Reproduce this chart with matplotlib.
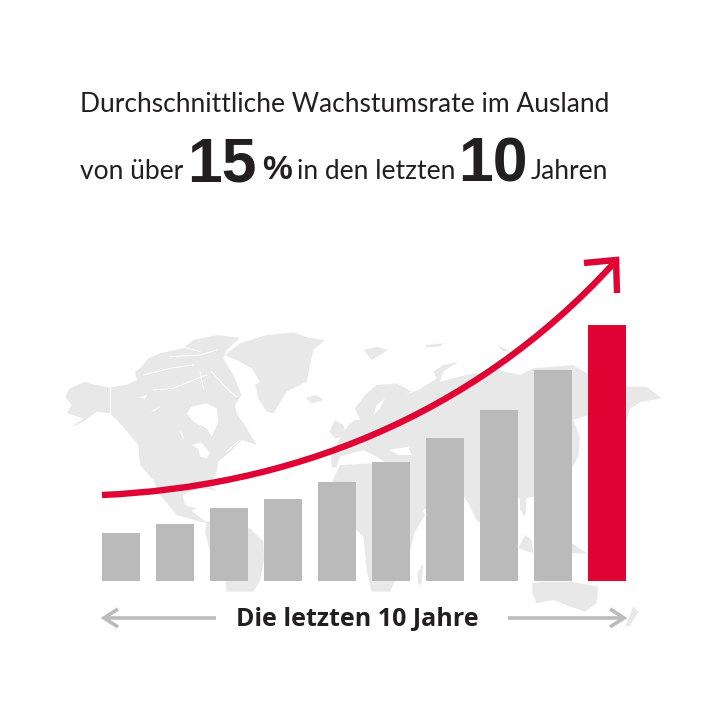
import matplotlib
matplotlib.use("Agg")
import matplotlib.pyplot as plt
from matplotlib.patches import PathPatch, Polygon
from matplotlib.path import Path

# bar heights
years = list(range(1, 11))
values = [48, 57, 73, 82, 99, 119, 143, 171, 211, 256]
bar_colors = ["#bababa"] * 9 + ["#e00434"]

title_line = "Durchschnittliche Wachstumsrate im Ausland"
bottom_label = "Die letzten 10 Jahre"

# map outlines, traced at 3x from two crops of the picture
west_land = [
    [(15, 215), (30, 190), (75, 170), (100, 178), (150, 188), (205, 178), (230, 165), (225, 140), (240, 130),
     (265, 100), (300, 85), (370, 70), (400, 45), (470, 30), (540, 38), (500, 75), (490, 100), (520, 150),
     (545, 210), (525, 240), (530, 265), (560, 310), (590, 360), (545, 345), (510, 380), (475, 410), (470, 440),
     (450, 480), (470, 500), (440, 490), (400, 495), (368, 510), (375, 540), (410, 550), (395, 558), (445, 595),
     (420, 590), (350, 570), (300, 510), (280, 465), (240, 420), (235, 360), (210, 330), (175, 290), (150, 265),
     (110, 260), (70, 290), (30, 310), (70, 280), (40, 270), (20, 265), (35, 240)],
    [(495, 90), (540, 55), (620, 30), (700, 22), (745, 38), (795, 45), (760, 75), (750, 120), (740, 170), (680, 200),
     (640, 265), (620, 260), (595, 220), (585, 180), (600, 170), (575, 130), (540, 110)],
    [(738, 218), (770, 210), (790, 225), (755, 235)],
    [(808, 320), (825, 285), (850, 300), (860, 335), (825, 340)],
    [(440, 590), (500, 590), (570, 610), (610, 650), (612, 700), (600, 770), (580, 800), (500, 800), (495, 740),
     (450, 680), (435, 620)],
]
west_cuts = [
    [(380, 265), (395, 245), (440, 235), (470, 250), (475, 290), (455, 335), (440, 310), (400, 290)],
    [(395, 360), (425, 352), (450, 385), (440, 400), (420, 395), (415, 370)],
    [(360, 315), (368, 325), (372, 342), (364, 332)],
    [(238, 218), (262, 208), (255, 222)],
    [(272, 260), (302, 242), (285, 258)],
]
west_lines = [
    [(150, 180), (150, 265)],
    [(250, 150), (330, 130), (400, 120)],
    [(280, 195), (340, 190), (400, 165), (440, 150)],
    [(330, 95), (420, 90), (470, 75)],
    [(350, 60), (420, 80)],
    [(420, 140), (430, 190)],
    [(455, 140), (500, 190), (530, 215)],
    [(500, 380), (540, 345)],
]
east_land = [
    [(-27, 354), (-20, 330), (0, 295), (25, 255), (45, 240), (60, 240), (45, 205), (75, 165), (110, 135), (170, 130),
     (215, 155), (195, 165), (235, 150), (290, 115), (280, 95), (310, 75), (355, 65), (310, 95), (300, 125),
     (380, 105), (470, 90), (540, 105), (580, 85), (700, 75), (740, 100), (860, 140), (920, 140), (965, 175),
     (905, 185), (870, 205), (860, 240), (790, 240), (745, 225), (700, 240), (720, 290), (715, 350), (695, 385),
     (640, 430), (582, 470), (560, 475), (550, 490), (533, 470), (470, 480), (415, 550), (385, 490), (372, 470),
     (320, 440), (290, 470), (258, 505), (235, 520), (210, 470), (195, 440), (190, 400), (140, 370), (110, 350),
     (70, 330), (0, 350), (-10, 380), (-24, 384)],
    [(-24, 425), (0, 375), (100, 370), (200, 385), (225, 480), (255, 525), (225, 575), (205, 650), (175, 700),
     (150, 755), (95, 755), (80, 690), (70, 590), (40, 560), (-60, 510), (-35, 450)],
    [(232, 700), (250, 670), (245, 730), (235, 735)],
    [(577, 730), (610, 725), (695, 725), (775, 740), (770, 790), (735, 815), (690, 800), (640, 780), (590, 790),
     (577, 760)],
    [(695, 610), (743, 640), (695, 640)],
    [(555, 585), (575, 600), (580, 640), (535, 625)],
    [(540, 480), (560, 485), (555, 530), (540, 510)],
    [(70, 30), (110, 20), (145, 30), (95, 60)],
    [(255, 15), (310, 10), (300, 20), (260, 22)],
    [(470, 15), (510, 32), (490, 35)],
    [(855, 860), (880, 800), (895, 815), (870, 858)],
]
east_cuts = [
    [(150, 330), (205, 320), (215, 345), (175, 345)],
    [(100, 225), (110, 195), (135, 175), (120, 205)],
]

fig = plt.figure(figsize=(7.26, 7.26), dpi=100)
ax = fig.add_axes([0, 0, 1, 1])
ax.set_xlim(0, 726)
ax.set_ylim(726, 0)
ax.axis("off")


def to_px(points, x0, y0):
    """Turn 3x crop coordinates back into picture pixels."""
    return [(x0 + x / 3, y0 + y / 3) for x, y in points]


for shape in west_land:
    ax.add_patch(Polygon(to_px(shape, 60, 325), closed=True, fc="#e8e8e8", ec="none", zorder=1))
for shape in east_land:
    ax.add_patch(Polygon(to_px(shape, 340, 340), closed=True, fc="#e8e8e8", ec="none", zorder=1))
for shape in west_cuts:
    ax.add_patch(Polygon(to_px(shape, 60, 325), closed=True, fc="white", ec="none", zorder=1.1))
for shape in east_cuts:
    ax.add_patch(Polygon(to_px(shape, 340, 340), closed=True, fc="white", ec="none", zorder=1.1))
for line in west_lines:
    pts = to_px(line, 60, 325)
    ax.plot([p[0] for p in pts], [p[1] for p in pts], color="white", lw=0.7, zorder=1.1)

# bars, y axis is flipped so baseline is the bottom
x_pos = [102 + 54 * (y - 1) for y in years]
ax.bar(x_pos, [-v for v in values], width=38, bottom=581, align="edge", color=bar_colors, zorder=2)

# growth arrow
curve = Path([(102, 495), (285, 487), (470, 420), (613, 264)],
             [Path.MOVETO, Path.CURVE4, Path.CURVE4, Path.CURVE4])
ax.add_patch(PathPatch(curve, fc="none", ec="#e00434", lw=4.6, capstyle="butt", zorder=3))
ax.plot([584, 616, 617], [263, 260, 293], color="#e00434", lw=4.6, solid_joinstyle="miter",
        solid_capstyle="butt", zorder=3)

# arrows under the bars
for xs in ([216, 104], [508, 624]):
    ax.plot(xs, [618, 618], color="#bbbbbb", lw=2.6, solid_capstyle="butt", zorder=3)
    tip = xs[1]
    back = tip + 14 if tip < xs[0] else tip - 14
    ax.plot([back, tip, back], [609, 618, 627], color="#bbbbbb", lw=2.6, solid_joinstyle="miter",
            solid_capstyle="butt", zorder=3)

# text
dark = "#231f20"
small = dict(family="Lato", fontsize=19, color=dark, va="baseline")
ax.text(80, 112, title_line, **small)
ax.text(80, 179, "von über", **small)
ax.text(297, 179, "in den letzten", **small)
ax.text(531, 179, "Jahren", **small)
big = dict(family="Liberation Sans", fontweight="bold", color=dark, va="baseline")
ax.text(187, 181, "15", fontsize=45, **big)
ax.text(262, 179, "%", fontsize=24, **big)
ax.text(458, 181, "10", fontsize=45, **big)
ax.text(357, 619, bottom_label, family="Open Sans", fontweight="bold", fontsize=18, color=dark,
        ha="center", va="center")

fig.savefig("out.png", dpi=100)
